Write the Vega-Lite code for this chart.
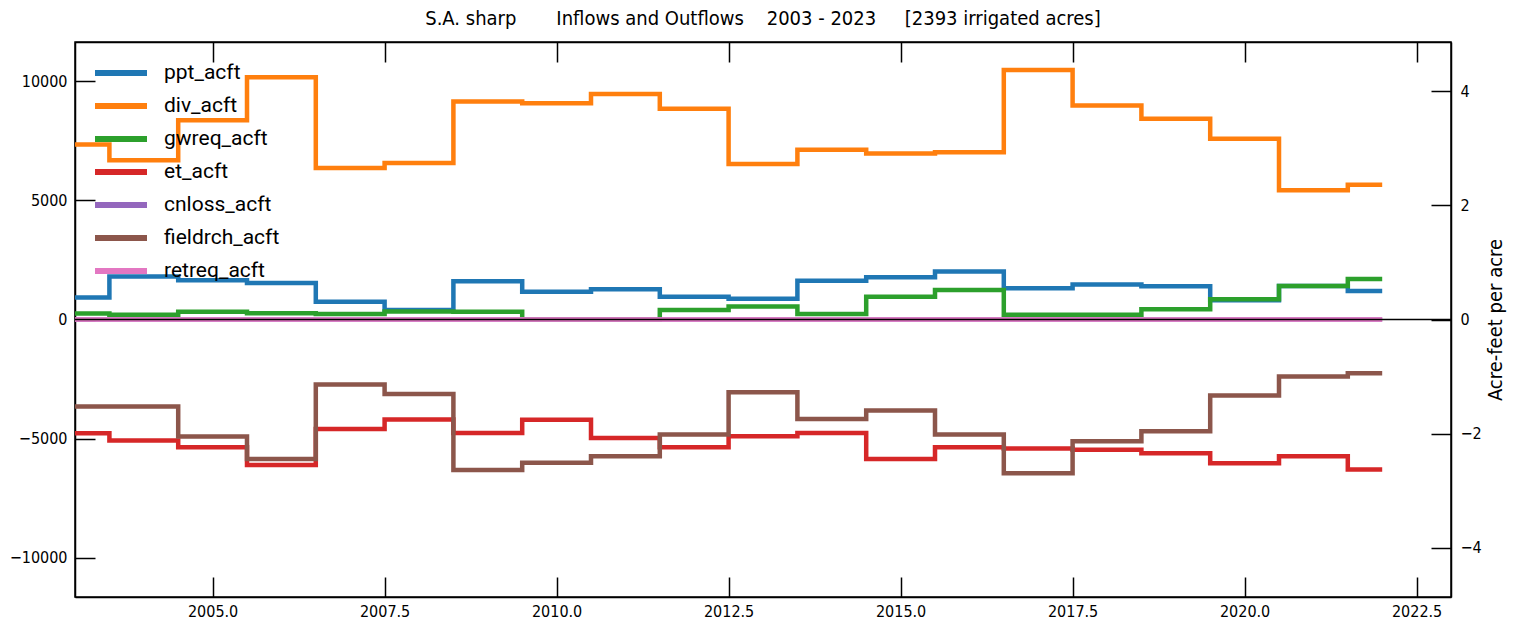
{
  "$schema": "https://vega.github.io/schema/vega-lite/v6.json",
  "width": 1376,
  "height": 555,
  "autosize": "none",
  "padding": {"left": 75, "top": 42, "right": 62, "bottom": 26},
  "background": "white",
  "title": {
    "text": "S.A. sharp\u00a0\u00a0\u00a0\u00a0\u00a0\u00a0\u00a0Inflows and Outflows\u00a0\u00a0\u00a0\u00a02003 - 2023\u00a0\u00a0\u00a0\u00a0\u00a0[2393 irrigated acres]",
    "font": "DejaVu Sans Condensed, sans-serif",
    "fontSize": 20,
    "fontWeight": "normal",
    "color": "black",
    "anchor": "middle",
    "offset": 12
  },
  "config": {
    "view": {"stroke": "black", "strokeWidth": 1.5},
    "axis": {
      "grid": false,
      "domainColor": "black",
      "domainWidth": 1.5,
      "tickColor": "black",
      "tickWidth": 1.5,
      "tickSize": -20,
      "labelColor": "black",
      "labelFont": "DejaVu Sans Condensed, sans-serif",
      "labelFontSize": 16,
      "titleColor": "black",
      "titleFont": "DejaVu Sans Condensed, sans-serif",
      "titleFontWeight": "normal"
    }
  },
  "data": {
    "values": [
      {"year": 2003, "ppt_acft": 920, "div_acft": 7350, "gwreq_acft": 255, "et_acft": -4777, "cnloss_acft": 0, "fieldrch_acft": -3655, "retreq_acft": 0},
      {"year": 2004, "ppt_acft": 1810, "div_acft": 6685, "gwreq_acft": 200, "et_acft": -5084, "cnloss_acft": 0, "fieldrch_acft": -3655, "retreq_acft": 0},
      {"year": 2005, "ppt_acft": 1645, "div_acft": 8360, "gwreq_acft": 330, "et_acft": -5364, "cnloss_acft": 0, "fieldrch_acft": -4916, "retreq_acft": 0},
      {"year": 2006, "ppt_acft": 1530, "div_acft": 10170, "gwreq_acft": 260, "et_acft": -6106, "cnloss_acft": 0, "fieldrch_acft": -5854, "retreq_acft": 0},
      {"year": 2007, "ppt_acft": 750, "div_acft": 6365, "gwreq_acft": 230, "et_acft": -4594, "cnloss_acft": 0, "fieldrch_acft": -2731, "retreq_acft": 0},
      {"year": 2008, "ppt_acft": 400, "div_acft": 6575, "gwreq_acft": 335, "et_acft": -4202, "cnloss_acft": 0, "fieldrch_acft": -3123, "retreq_acft": 0},
      {"year": 2009, "ppt_acft": 1610, "div_acft": 9150, "gwreq_acft": 330, "et_acft": -4762, "cnloss_acft": 0, "fieldrch_acft": -6316, "retreq_acft": 0},
      {"year": 2010, "ppt_acft": 1170, "div_acft": 9080, "gwreq_acft": 0, "et_acft": -4210, "cnloss_acft": 0, "fieldrch_acft": -6015, "retreq_acft": 0},
      {"year": 2011, "ppt_acft": 1270, "div_acft": 9470, "gwreq_acft": 0, "et_acft": -4972, "cnloss_acft": 0, "fieldrch_acft": -5742, "retreq_acft": 0},
      {"year": 2012, "ppt_acft": 960, "div_acft": 8845, "gwreq_acft": 400, "et_acft": -5364, "cnloss_acft": 0, "fieldrch_acft": -4832, "retreq_acft": 0},
      {"year": 2013, "ppt_acft": 870, "div_acft": 6530, "gwreq_acft": 550, "et_acft": -4902, "cnloss_acft": 0, "fieldrch_acft": -3053, "retreq_acft": 0},
      {"year": 2014, "ppt_acft": 1630, "div_acft": 7130, "gwreq_acft": 230, "et_acft": -4762, "cnloss_acft": 0, "fieldrch_acft": -4174, "retreq_acft": 0},
      {"year": 2015, "ppt_acft": 1770, "div_acft": 6965, "gwreq_acft": 960, "et_acft": -5854, "cnloss_acft": 0, "fieldrch_acft": -3824, "retreq_acft": 0},
      {"year": 2016, "ppt_acft": 2020, "div_acft": 7020, "gwreq_acft": 1240, "et_acft": -5364, "cnloss_acft": 0, "fieldrch_acft": -4832, "retreq_acft": 0},
      {"year": 2017, "ppt_acft": 1310, "div_acft": 10470, "gwreq_acft": 195, "et_acft": -5420, "cnloss_acft": 0, "fieldrch_acft": -6450, "retreq_acft": 0},
      {"year": 2018, "ppt_acft": 1470, "div_acft": 8985, "gwreq_acft": 195, "et_acft": -5470, "cnloss_acft": 0, "fieldrch_acft": -5112, "retreq_acft": 0},
      {"year": 2019, "ppt_acft": 1395, "div_acft": 8425, "gwreq_acft": 430, "et_acft": -5616, "cnloss_acft": 0, "fieldrch_acft": -4692, "retreq_acft": 0},
      {"year": 2020, "ppt_acft": 805, "div_acft": 7590, "gwreq_acft": 850, "et_acft": -6036, "cnloss_acft": 0, "fieldrch_acft": -3193, "retreq_acft": 0},
      {"year": 2021, "ppt_acft": 1410, "div_acft": 5430, "gwreq_acft": 1410, "et_acft": -5742, "cnloss_acft": 0, "fieldrch_acft": -2395, "retreq_acft": 0},
      {"year": 2022, "ppt_acft": 1200, "div_acft": 5655, "gwreq_acft": 1700, "et_acft": -6302, "cnloss_acft": 0, "fieldrch_acft": -2255, "retreq_acft": 0}
    ]
  },
  "transform": [
    {"fold": ["ppt_acft", "div_acft", "gwreq_acft", "et_acft", "cnloss_acft", "fieldrch_acft", "retreq_acft"], "as": ["series", "acft"]}
  ],
  "layer": [
    {
      "mark": {"type": "line", "interpolate": "step", "strokeWidth": 4.5},
      "encoding": {
        "x": {
          "field": "year", "type": "quantitative",
          "scale": {"domain": [2003, 2023], "nice": false, "zero": false},
          "axis": {"orient": "bottom", "title": null, "values": [2005, 2007.5, 2010, 2012.5, 2015, 2017.5, 2020, 2022.5], "format": ".1f", "labelPadding": 26}
        },
        "y": {
          "field": "acft", "type": "quantitative",
          "scale": {"domain": [-11650, 11650], "nice": false, "zero": false},
          "axis": {"orient": "left", "title": null, "values": [-10000, -5000, 0, 5000, 10000], "format": "d", "labelPadding": 28}
        },
        "color": {
          "field": "series", "type": "nominal",
          "scale": {
            "domain": ["ppt_acft", "div_acft", "gwreq_acft", "et_acft", "cnloss_acft", "fieldrch_acft", "retreq_acft"],
            "range": ["#1f77b4", "#ff7f0e", "#2ca02c", "#d62728", "#9467bd", "#8c564b", "#e377c2"]
          },
          "legend": {
            "orient": "none", "legendX": 33, "legendY": 18, "title": null, "padding": 0,
            "symbolType": "M-2.6,0H2.6", "symbolSize": 400, "symbolStrokeWidth": 6,
            "labelFont": "Roboto", "labelFontSize": 21, "labelColor": "black",
            "labelOffset": 30, "rowPadding": 8
          }
        }
      }
    },
    {
      "mark": {"type": "line", "strokeOpacity": 0},
      "encoding": {
        "x": {
          "field": "year", "type": "quantitative",
          "axis": {"orient": "top", "title": null, "labels": false, "values": [2005, 2007.5, 2010, 2012.5, 2015, 2017.5, 2020, 2022.5]}
        },
        "y": {
          "field": "acft", "type": "quantitative",
          "axis": {
            "orient": "right", "title": "Acre-feet per acre", "titleFontSize": 20, "titleAngle": 270, "titlePadding": 24,
            "values": [-9572, -4786, 0, 4786, 9572],
            "labelExpr": "format(datum.value / 2393, 'd')", "labelPadding": 29
          }
        },
        "detail": {"field": "series", "type": "nominal"}
      }
    },
    {
      "data": {"values": [{"level": 0}]},
      "mark": {"type": "rule", "color": "black", "strokeWidth": 1.5},
      "encoding": {"y": {"field": "level", "type": "quantitative", "axis": null}}
    }
  ],
  "resolve": {"axis": {"x": "independent", "y": "independent"}}
}
